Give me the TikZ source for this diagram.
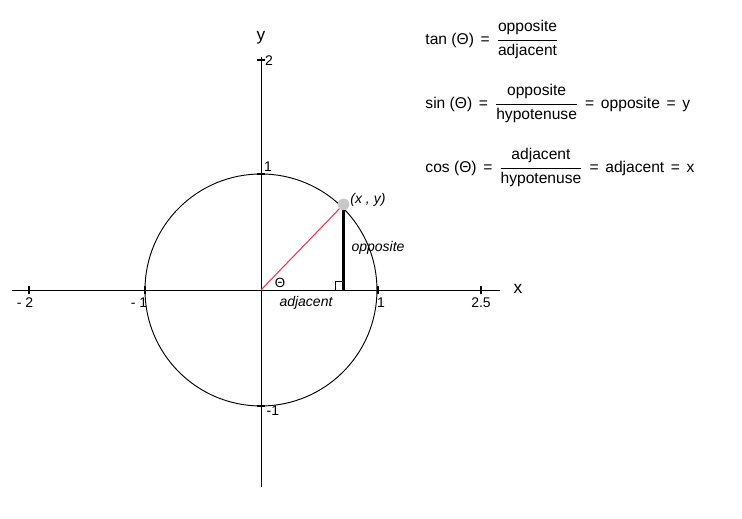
\documentclass[tikz,border=0pt]{standalone}
\usepackage{fontspec}
\setmainfont{Liberation Sans}
\usepackage{amsmath}
\usetikzlibrary{positioning}

\definecolor{dotgray}{RGB}{200,200,200}
\definecolor{radiusred}{RGB}{245,55,75}

% fraction of two words, a bit more open than \dfrac
\newcommand{\ratio}[2]{$\dfrac{\rule[-5pt]{0pt}{10pt}\text{#1}}{\rule[-3pt]{0pt}{13pt}\text{#2}}$}
\newcommand{\eqgap}{\hspace{5pt}=\hspace{5pt}}

\begin{document}
\begin{tikzpicture}[x=87pt,y=87pt, line width=0.7pt,
    axistick/.style={line width=1.4pt},
    ticklabel/.style={inner sep=0pt, font=\fontsize{10.5}{12}\selectfont},
    sidelabel/.style={inner sep=0pt, font=\itshape\fontsize{10.5}{12}\selectfont},
    eqrow/.style={anchor=west, inner sep=0pt, font=\fontsize{11.7}{14}\selectfont}]
  \useasboundingbox (-2.25,-1.966) rectangle (4.147,2.5);

  % axes
  \coordinate (O) at (0,0);
  \coordinate (xmin) at (-2.147,0);
  \coordinate (xmax) at (2.06,0);
  \coordinate (ymin) at (0,-1.698);
  \coordinate (ymax) at (0,2.009);
  \draw (xmin) -- (xmax);
  \draw (ymin) -- (ymax);
  \foreach \t in {-2,-1,1.009,1.897}
    \draw[axistick] (\t,-0.035) -- (\t,0.035);
  \foreach \t in {1.983,1,-1}
    \draw[axistick] (-0.035,\t) -- (0.035,\t);

  \node[ticklabel] (xm2) at (-2.034,-0.112) {- 2};
  \node[ticklabel] (xm1) at (-1.052,-0.112) {- 1};
  \node[ticklabel] (xp1) at (1.034,-0.112) {1};
  \node[ticklabel] (xp25) at (1.897,-0.112) {2.5};
  \node[ticklabel] (yp2) at (0.069,1.974) {2};
  \node[ticklabel] (yp1) at (0.06,1.06) {1};
  \node[ticklabel] (ym1) at (0.103,-1.043) {-1};
  \node[font=\fontsize{13}{15}\selectfont] (xname) at (2.216,0.009) {x};
  \node[font=\fontsize{13}{15}\selectfont] (yname) at (0,2.172) {y};

  % unit circle and triangle
  \draw (O) circle[radius=1];
  \coordinate (P) at (46:1.025);
  \coordinate (F) at (P |- O);
  \draw[radiusred, line width=0.8pt] (O) -- (P);
  \draw[line width=1.7pt] (P) -- (F);
  \draw[line width=0.6pt] (F) ++(-0.07,0) rectangle ++(0.07,0.07);
  \fill[dotgray] (P) circle[radius=0.05];

  \node[sidelabel] (pt) at (0.922,0.776) {(x , y)};
  \node[sidelabel] (opp) at (1.009,0.362) {opposite};
  \node[sidelabel] (adj) at (0.388,-0.112) {adjacent};
  \node[inner sep=0pt, font=\fontsize{10}{12}\selectfont] (theta) at (0.164,0.06) {Θ};

  % ratios
  \node[eqrow] (tanrow) at (1.414,2.155) {tan (Θ)\eqgap\ratio{opposite}{adjacent}};
  \node[eqrow] (sinrow) at (1.414,1.603) {sin (Θ)\eqgap\ratio{opposite}{hypotenuse}\eqgap opposite\eqgap y};
  \node[eqrow] (cosrow) at (1.414,1.052) {cos (Θ)\eqgap\ratio{adjacent}{hypotenuse}\eqgap adjacent\eqgap x};
\end{tikzpicture}
\end{document}
